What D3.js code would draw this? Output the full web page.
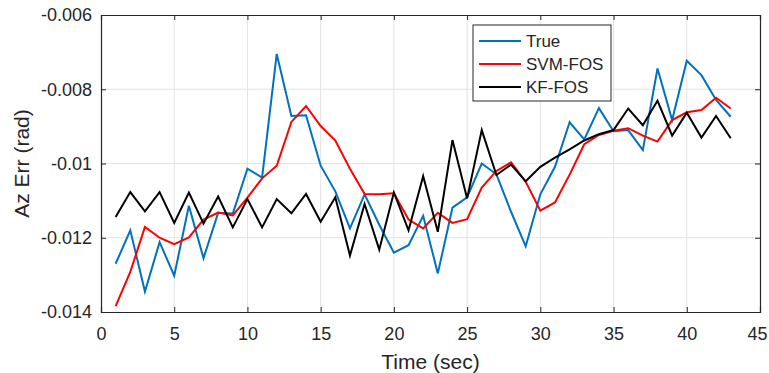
<!DOCTYPE html>
<html>
<head>
<meta charset="utf-8">
<script src="https://cdn.jsdelivr.net/npm/d3@7"></script>
<style>
  body { margin: 0; background: #fff; }
  svg text { font-family: "Liberation Sans", Arial, sans-serif; fill: #262626; }
</style>
</head>
<body>
<div id="chart"></div>
<script>
// data
let time = d3.range(1, 44);
let trueVals = [-0.01270, -0.01180, -0.01345, -0.01212, -0.01302, -0.01114, -0.01255, -0.01133, -0.01135, -0.01014,
    -0.01038, -0.00705, -0.00872, -0.00870, -0.01006, -0.01075, -0.01175, -0.01083, -0.01165, -0.01240,
    -0.01220, -0.01141, -0.01296, -0.01119, -0.01091, -0.01000, -0.01029, -0.01130, -0.01223, -0.01083,
    -0.01009, -0.00889, -0.00935, -0.00851, -0.00913, -0.00910, -0.00964, -0.00744, -0.00883, -0.00723,
    -0.00762, -0.00829, -0.00874];
let svmVals = [-0.01384, -0.01292, -0.01171, -0.01200, -0.01217, -0.01199, -0.01151, -0.01132, -0.01140, -0.01092,
    -0.01040, -0.01006, -0.00888, -0.00845, -0.00899, -0.00938, -0.01014, -0.01082, -0.01083, -0.01080,
    -0.01151, -0.01175, -0.01133, -0.01160, -0.01150, -0.01065, -0.01020, -0.00997, -0.01049, -0.01127,
    -0.01105, -0.01030, -0.00948, -0.00923, -0.00912, -0.00905, -0.00925, -0.00941, -0.00883, -0.00862,
    -0.00856, -0.00823, -0.00852];
let kfVals = [-0.01144, -0.01077, -0.01129, -0.01077, -0.01160, -0.01078, -0.01162, -0.01089, -0.01172, -0.01096,
    -0.01172, -0.01096, -0.01134, -0.01082, -0.01157, -0.01091, -0.01248, -0.01109, -0.01232, -0.01078,
    -0.01180, -0.01034, -0.01184, -0.00937, -0.01094, -0.00910, -0.01031, -0.01003, -0.01048, -0.01009,
    -0.00984, -0.00962, -0.00938, -0.00921, -0.00910, -0.00852, -0.00897, -0.00831, -0.00925, -0.00863,
    -0.00930, -0.00872, -0.00932];
let seriesNames = ["True", "SVM-FOS", "KF-FOS"];
let seriesColors = ["#0072BD", "#FF0000", "#000000"];
let xTicks = [0, 5, 10, 15, 20, 25, 30, 35, 40, 45];
let yTicks = [-0.006, -0.008, -0.01, -0.012, -0.014];
let yTickLabels = ["-0.006", "-0.008", "-0.01", "-0.012", "-0.014"];

let width = 769, height = 373;
let margin = {top: 15, right: 9, bottom: 61, left: 101};
let plotW = width - margin.left - margin.right;
let plotH = height - margin.top - margin.bottom;

let svg = d3.select("#chart")
    .append("svg")
    .attr("width", width)
    .attr("height", height);

let g = svg.append("g")
    .attr("transform", `translate(${margin.left},${margin.top})`);

let x = d3.scaleLinear().domain([0, 45]).range([0, plotW]);
let y = d3.scaleLinear().domain([-0.014, -0.006]).range([plotH, 0]);

// grid
g.append("g").selectAll("line").data(xTicks.slice(1, -1)).join("line")
    .attr("x1", d => x(d)).attr("x2", d => x(d))
    .attr("y1", 0).attr("y2", plotH)
    .attr("stroke", "#e3e3e3").attr("stroke-width", 1);
g.append("g").selectAll("line").data(yTicks.slice(1, -1)).join("line")
    .attr("x1", 0).attr("x2", plotW)
    .attr("y1", d => y(d)).attr("y2", d => y(d))
    .attr("stroke", "#e3e3e3").attr("stroke-width", 1);

// series
let allVals = [trueVals, svmVals, kfVals];
let line = d3.line()
    .x((d, i) => x(time[i]))
    .y(d => y(d));

allVals.forEach(function (vals, k) {
    g.append("path")
        .datum(vals)
        .attr("fill", "none")
        .attr("stroke", seriesColors[k])
        .attr("stroke-width", 2)
        .attr("stroke-linejoin", "miter")
        .attr("d", line);
});

// axes (MATLAB style box, ticks inward)
let tickLen = 5;
let xAxis = g.append("g").attr("transform", `translate(0,${plotH})`)
    .call(d3.axisBottom(x).tickValues(xTicks).tickSize(-tickLen).tickPadding(15).tickFormat(d3.format("d")));
let xAxisTop = g.append("g")
    .call(d3.axisTop(x).tickValues(xTicks).tickSize(-tickLen).tickFormat(""));
let yAxis = g.append("g")
    .call(d3.axisLeft(y).tickValues(yTicks).tickSize(-tickLen).tickPadding(9)
        .tickFormat((d, i) => yTickLabels[i]));
let yAxisRight = g.append("g").attr("transform", `translate(${plotW},0)`)
    .call(d3.axisRight(y).tickValues(yTicks).tickSize(-tickLen).tickFormat(""));

[xAxis, xAxisTop, yAxis, yAxisRight].forEach(function (a) {
    a.select(".domain").attr("stroke", "#262626").attr("stroke-width", 1.2);
    a.selectAll(".tick line").attr("stroke", "#262626");
    a.selectAll("text").style("font-size", "18px").attr("fill", "#262626");
});
// keep the last x label inside the window
xAxis.selectAll(".tick text").filter(d => d === 45).attr("text-anchor", "end").attr("dx", "7px");

// axis labels
svg.append("text")
    .attr("x", margin.left + plotW / 2)
    .attr("y", 369)
    .style("text-anchor", "middle")
    .style("font-size", "21px")
    .text("Time (sec)");

svg.append("text")
    .attr("transform", `translate(29,${margin.top + plotH / 2}) rotate(-90)`)
    .style("text-anchor", "middle")
    .style("font-size", "21px")
    .text("Az Err (rad)");

// legend
let legend = svg.append("g").attr("transform", "translate(473,25)");
legend.append("rect")
    .attr("width", 138).attr("height", 76)
    .attr("fill", "#fff")
    .attr("stroke", "#262626").attr("stroke-width", 1);
seriesNames.forEach(function (name, k) {
    let ly = 16 + k * 23;
    legend.append("line")
        .attr("x1", 6).attr("x2", 48)
        .attr("y1", ly).attr("y2", ly)
        .attr("stroke", seriesColors[k]).attr("stroke-width", 2);
    legend.append("text")
        .attr("x", 53).attr("y", ly + 6)
        .style("font-size", "17px")
        .text(name);
});
</script>
</body>
</html>
